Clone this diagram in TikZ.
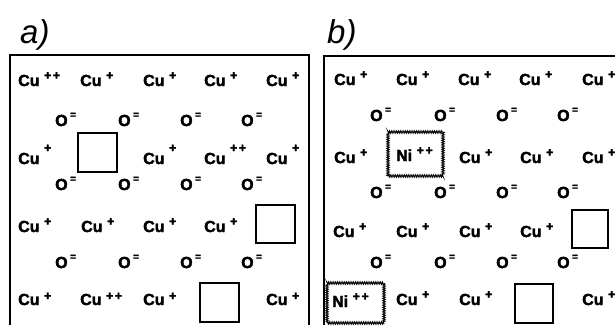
\documentclass[tikz,border=0pt]{standalone}
\usepackage{fontspec}
\setmainfont{Liberation Sans}
\newfontfamily\ionfont{Liberation Sans Bold}[FakeBold=2.2]
\usetikzlibrary{positioning,decorations.pathmorphing}

\newcommand{\chg}[2][6.5pt]{\kern4.5pt\raisebox{#1}{\fontsize{12.5}{12}\selectfont #2}}
\newcommand{\cuone}[1][6.5pt]{Cu\chg[#1]{+}}
\newcommand{\cutwo}[1][6.5pt]{Cu\chg[#1]{+\kern1.5pt+}}
\newcommand{\oxy}{O\kern2.5pt\raisebox{8pt}{\fontsize{10}{10}\selectfont =}}

\tikzset{
  ion/.style={font=\ionfont\fontsize{16}{16}\selectfont, inner sep=0pt, anchor=base west},
  vacancy/.style={draw, line width=2.2pt, inner sep=0pt},
  nibox/.style={draw, line width=0.8pt, inner sep=0pt, decorate,
    decoration={zigzag, segment length=1.8pt, amplitude=1.2pt}},
  frame/.style={line width=1.3pt},
  panel/.style={font=\itshape\fontsize{33}{33}\selectfont, inner sep=0pt, anchor=base west}
}

\begin{document}
\begin{tikzpicture}[x=1pt,y=-1pt]
	\useasboundingbox (0,0) rectangle (615,325);
	
	% frames
	\draw[frame] (10,325) |- (309,55) -- (309,325);
	\draw[frame] (324,325) |- (615,56);
	
	\node[panel] (lba) at (20,43) {a)};
	\node[panel] (lbb) at (327,43) {b)};
	
	% panel a
	\node[ion] (a11) at (18,86) {\cutwo};
	\node[ion] (a12) at (80,86) {\cuone};
	\node[ion] (a13) at (143,86) {\cuone};
	\node[ion] (a14) at (204,86) {\cuone};
	\node[ion] (a15) at (266,86) {\cuone};
	
	\node[ion] (a31) at (18,164) {\cuone[12pt]};
	\node[vacancy, minimum width=39pt, minimum height=39pt] (va1) at (97.5,152.5) {};
	\node[ion] (a33) at (143,164) {\cuone[12pt]};
	\node[ion] (a34) at (204,164) {\cutwo[12pt]};
	\node[ion] (a35) at (266,164) {\cuone[12pt]};
	
	\node[ion] (a51) at (18,232) {\cuone};
	\node[ion] (a52) at (81,232) {\cuone};
	\node[ion] (a53) at (143,232) {\cuone};
	\node[ion] (a54) at (204,232) {\cuone};
	\node[vacancy, minimum width=39pt, minimum height=38pt] (va2) at (275.5,224) {};
	
	\node[ion] (a71) at (18,305) {\cuone[5pt]};
	\node[ion] (a72) at (80,305) {\cutwo[5pt]};
	\node[ion] (a73) at (143,305) {\cuone[5pt]};
	\node[vacancy, minimum width=39pt, minimum height=39pt] (va3) at (219.5,302.5) {};
	\node[ion] (a75) at (266,305) {\cuone[5pt]};
	
	\foreach \y [count=\r] in {126,190,268}
		\foreach \x [count=\i] in {55,118,180,241}
			\node[ion] (ao\r\i) at (\x,\y) {\oxy};
	
	% panel b
	\node[ion] (b11) at (334,85) {\cuone};
	\node[ion] (b12) at (396,85) {\cuone};
	\node[ion] (b13) at (458,85) {\cuone};
	\node[ion] (b14) at (519,85) {\cuone};
	\node[ion] (b15) at (582,85) {\cuone};
	
	\node[ion] (b31) at (334,163) {\cuone};
	\node[nibox, minimum width=55pt, minimum height=44pt] (ni1) at (415.5,154) {};
	\node[ion] (b32) at (396,161) {Ni\chg{+\kern1.5pt+}};
	\node[ion] (b33) at (459,163) {\cuone};
	\node[ion] (b34) at (520,163) {\cuone};
	\node[ion] (b35) at (582,163) {\cuone};
	
	\node[ion] (b51) at (333,237) {\cuone};
	\node[ion] (b52) at (396,237) {\cuone};
	\node[ion] (b53) at (459,237) {\cuone};
	\node[ion] (b54) at (520,237) {\cuone};
	\node[vacancy, minimum width=36pt, minimum height=38pt] (vb1) at (590,229) {};
	
	\node[nibox, minimum width=57pt, minimum height=40pt] (ni2) at (355.5,303) {};
	\node[ion] (b71) at (332,307) {Ni\chg{+\kern1.5pt+}};
	\node[ion] (b72) at (396,305) {\cuone};
	\node[ion] (b73) at (459,305) {\cuone};
	\node[vacancy, minimum width=38pt, minimum height=39pt] (vb2) at (534,303.5) {};
	\node[ion] (b75) at (582,305) {\cuone};
	
	\foreach \y [count=\r] in {121,198,268}
		\foreach \x [count=\i] in {370,434,496,557}
			\node[ion] (bo\r\i) at (\x,\y) {\oxy};
	
\end{tikzpicture}
\end{document}
